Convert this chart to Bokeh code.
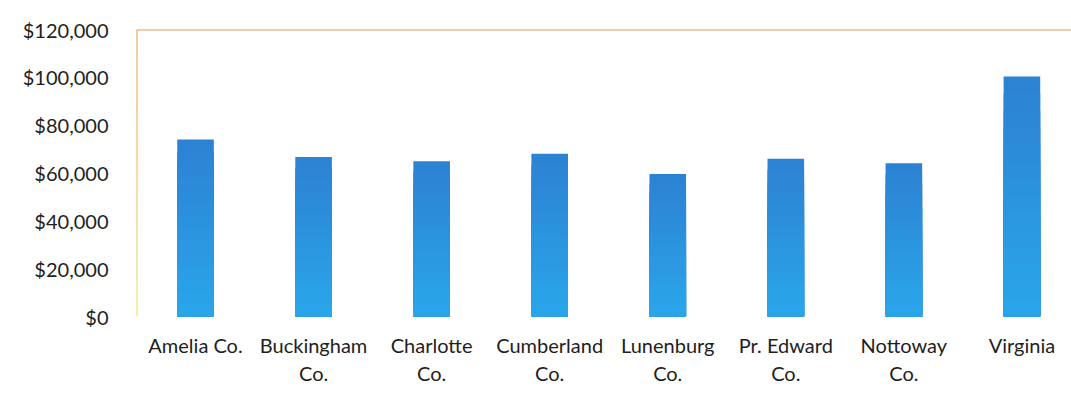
from bokeh.plotting import figure
from bokeh.models import Range1d, FixedTicker, NumeralTickFormatter, Span
from bokeh.embed import file_html
from bokeh.resources import INLINE

# Median household income by locality
localities = ["Amelia Co.", "Buckingham Co.", "Charlotte Co.", "Cumberland Co.",
              "Lunenburg Co.", "Pr. Edward Co.", "Nottoway Co.", "Virginia"]
tick_labels = ["Amelia Co.", "Buckingham\nCo.", "Charlotte\nCo.", "Cumberland\nCo.",
               "Lunenburg\nCo.", "Pr. Edward\nCo.", "Nottoway\nCo.", "Virginia"]
incomes = [74000, 66700, 64900, 68100, 59600, 66000, 64100, 100400]
y_ticks = [0, 20000, 40000, 60000, 80000, 100000, 120000]

FONT = "Lato"
n = len(localities)
xs = [i + 0.5 for i in range(n)]


def blend(c0, c1, t):
    return "#%02X%02X%02X" % tuple(int(round(a + (b - a) * t)) for a, b in zip(c0, c1))


p = figure(width=1071, height=394, frame_width=935, frame_height=287,
           output_backend="svg", toolbar_location=None,
           x_range=Range1d(0, 7.92), y_range=Range1d(0, 120000),
           min_border_left=136, min_border_right=0, min_border_top=29, min_border_bottom=78)
p.outline_line_color = None
p.background_fill_color = "white"
p.border_fill_color = "white"
p.xgrid.visible = False
p.ygrid.visible = False

# bars with a vertical gradient: darker blue at the top, lighter at the base
top_rgb = (0x2C, 0x82, 0xD3)
base_rgb = (0x2A, 0xA5, 0xE9)
layers = 14
p.vbar(x=xs, top=incomes, bottom=0, width=0.31, fill_color=blend(top_rgb, base_rgb, 0), line_color=None)
for k in range(1, layers):
    frac = 1 - k / layers
    p.vbar(x=xs, top=[v * frac for v in incomes], bottom=0, width=0.31,
           fill_color=blend(top_rgb, base_rgb, k / (layers - 1)), line_color=None)

# frame: orange top edge, left edge fading from orange to yellow
p.add_layout(Span(location=120000, dimension="width", line_color="#EC9550", line_width=2))
steps = 24
for k in range(steps):
    p.segment(x0=[0], x1=[0], y0=[120000 * (1 - k / steps)], y1=[120000 * (1 - (k + 1) / steps)],
              line_color=blend((0xEC, 0x95, 0x50), (0xF4, 0xDC, 0x55), k / (steps - 1)), line_width=2)

p.yaxis.ticker = FixedTicker(ticks=y_ticks)
p.yaxis.formatter = NumeralTickFormatter(format="$0,0")
p.xaxis.ticker = FixedTicker(ticks=xs)
p.xaxis.major_label_overrides = {x: lab for x, lab in zip(xs, tick_labels)}

for ax in (p.xaxis, p.yaxis):
    ax.axis_line_color = None
    ax.major_tick_line_color = None
    ax.minor_tick_line_color = None
    ax.major_label_text_font = FONT
    ax.major_label_text_font_size = "20px"
    ax.major_label_text_color = "#1E1E1E"

p.yaxis.major_label_standoff = 22
p.xaxis.major_label_standoff = 10
p.xaxis.major_label_text_line_height = 1.17

open("out.html", "w").write(file_html(p, INLINE))
